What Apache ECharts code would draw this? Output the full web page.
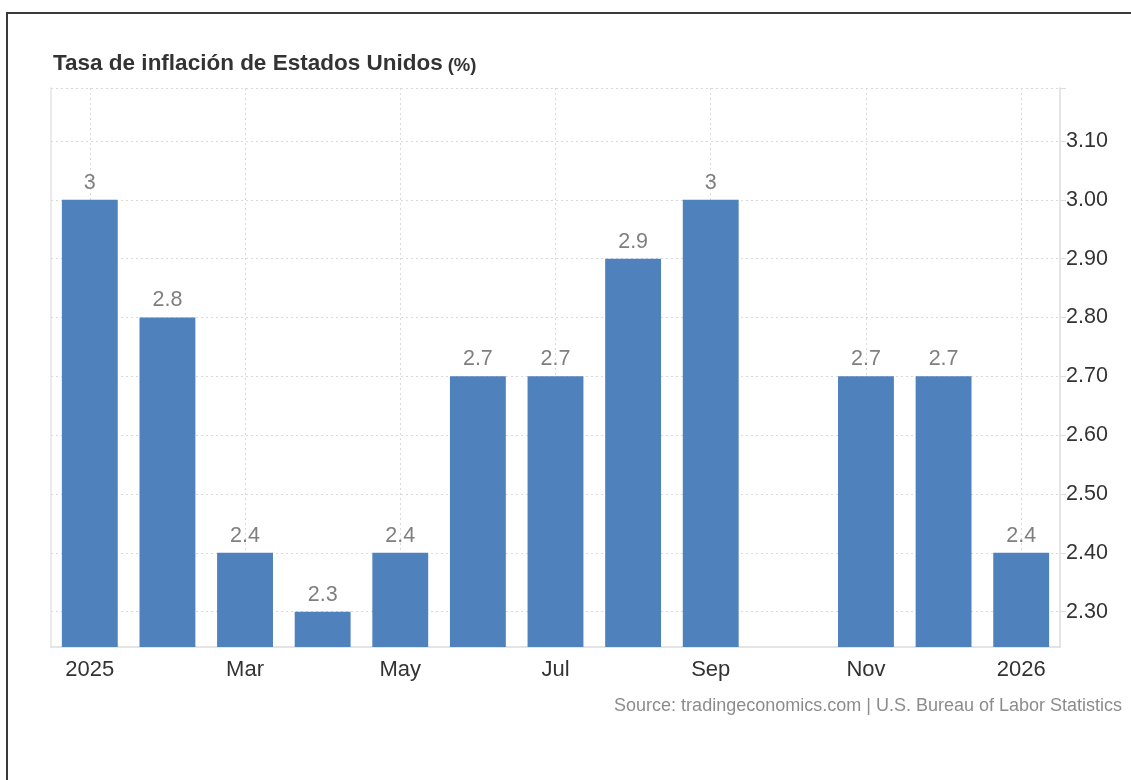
<!DOCTYPE html>
<html>
<head>
<meta charset="utf-8">
<script src="https://cdn.jsdelivr.net/npm/echarts@6/dist/echarts.min.js"></script>
<style>
  html, body { margin: 0; padding: 0; background: #fff; }
  #frame { position: absolute; left: 6px; top: 12px; width: 1200px; height: 800px; border-top: 2px solid #3a3a3a; border-left: 2px solid #3a3a3a; }
  #chart { position: absolute; left: 0; top: 0; width: 1131px; height: 780px; }
</style>
</head>
<body>
<div id="frame"></div>
<div id="chart"></div>
<script>
const categories = ['2025','Feb','Mar','Apr','May','Jun','Jul','Aug','Sep','Oct','Nov','Dec','2026'];
const inflation = [3.0, 2.8, 2.4, 2.3, 2.4, 2.7, 2.7, 2.9, 3.0, null, 2.7, 2.7, 2.4];
const yTicks = [2.3, 2.4, 2.5, 2.6, 2.7, 2.8, 2.9, 3.0, 3.1];
const yMin = 2.24;
const yMax = 3.19;

const chart = echarts.init(document.getElementById('chart'), null, { renderer: 'canvas' });
const FONT = 'Liberation Sans, Arial, sans-serif';
chart.setOption({
  animation: false,
  title: [{
    text: '{a|Tasa de inflación de Estados Unidos} {b|(%)}',
    left: 48, top: 47,
    textStyle: {
      rich: {
        a: { fontFamily: FONT, fontSize: 22.5, fontWeight: 'bold', color: '#333' },
        b: { fontFamily: FONT, fontSize: 18.5, fontWeight: 'bold', color: '#333', padding: [4, 0, 0, 0] }
      }
    }
  }, {
    text: 'Source: tradingeconomics.com | U.S. Bureau of Labor Statistics',
    right: 4, top: 692,
    textStyle: { fontFamily: FONT, fontSize: 18, fontWeight: 'normal', color: '#8c8c8c' }
  }],
  grid: { left: 51, right: 71, top: 88, bottom: 133 },
  xAxis: {
    type: 'category',
    data: categories,
    axisLine: { show: true, lineStyle: { color: '#dcdcdc', width: 1.5 } },
    axisTick: { show: false },
    axisLabel: { interval: 1, fontFamily: FONT, fontSize: 22, color: '#333', margin: 12 },
    splitLine: { show: true, interval: 1, alignWithLabel: true, lineStyle: { color: '#dadada', type: [2, 3], width: 1 } }
  },
  yAxis: [{
    type: 'value',
    position: 'right',
    min: yMin,
    max: yMax,
    axisLine: { show: true, lineStyle: { color: '#dcdcdc', width: 1.5 } },
    axisTick: { show: true, length: 6, lineStyle: { color: '#dcdcdc' }, customValues: yTicks.concat([yMax]) },
    axisLabel: {
      customValues: yTicks,
      fontFamily: FONT, fontSize: 21.5, color: '#333', margin: 6,
      formatter: v => v.toFixed(2)
    },
    splitLine: { show: true, lineStyle: { color: '#dadada', type: [2, 3], width: 1 } }
  }, {
    type: 'value',
    position: 'left',
    min: yMin,
    max: yMax,
    axisLine: { show: true, lineStyle: { color: '#e3e3e3', width: 1.5 } },
    axisTick: { show: false },
    axisLabel: { show: false },
    splitLine: { show: false }
  }],
  series: [{
    type: 'bar',
    data: inflation,
    barWidth: '72%',
    itemStyle: { color: '#4f81bd' },
    label: {
      show: true,
      position: 'top',
      distance: 6,
      fontFamily: FONT, fontSize: 21.5, color: '#7f7f7f',
      formatter: p => String(p.value)
    }
  }]
});
</script>
</body>
</html>
